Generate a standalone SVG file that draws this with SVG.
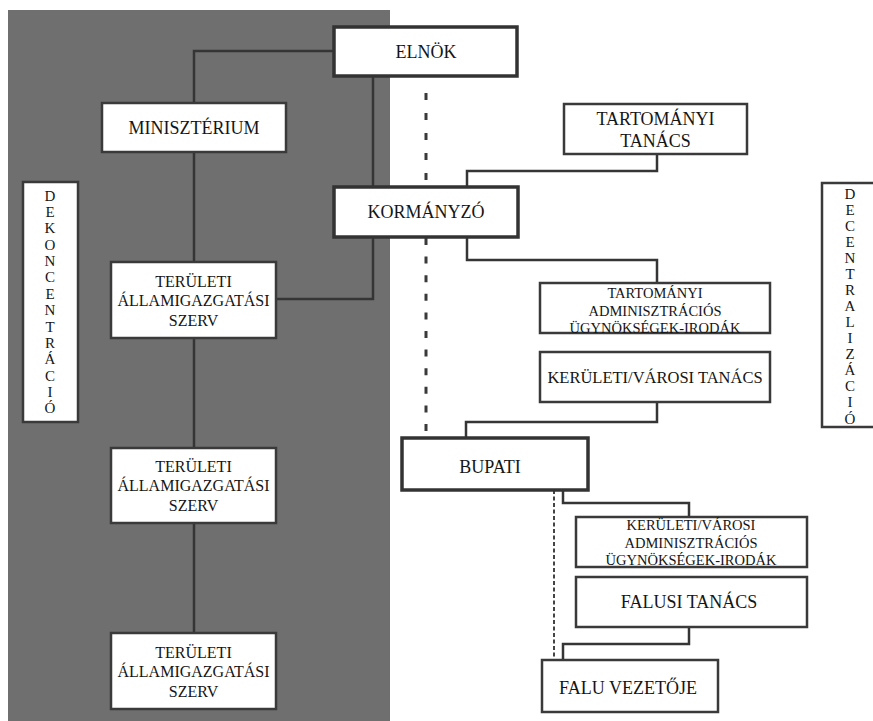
<svg xmlns="http://www.w3.org/2000/svg" width="873" height="721" viewBox="0 0 873 721">
<style>
  text { font-family: "Liberation Serif", "Times New Roman", serif; fill: #151515; text-anchor: middle; }
  .box { fill: #ffffff; stroke: #3a3a3a; stroke-width: 2.5; }
  .thick { fill: #ffffff; stroke: #333333; stroke-width: 3.5; }
  .conn { fill: none; stroke: #353535; stroke-width: 2.5; }
  .dash { fill: none; stroke: #3a3a3a; stroke-width: 3; stroke-dasharray: 7 13; }
  .dash2 { fill: none; stroke: #3a3a3a; stroke-width: 3; stroke-dasharray: 7 11.6; }
  .thin { fill: none; stroke: #444444; stroke-width: 2; stroke-dasharray: 4 2.5; }
  .f18 { font-size: 18px; }
  .f16 { font-size: 16px; }
  .f145 { font-size: 14.5px; }
  .f165 { font-size: 16.5px; }
  .v { font-size: 15px; }
</style>
<rect id="background" x="0" y="0" width="873" height="721" fill="#ffffff"/>
<rect id="deconcentration-area" x="8" y="10" width="382" height="711" fill="#6f6f6f"/>

<g id="connectors">
  <path class="conn" d="M333,51 H194 V633"/>
  <path class="conn" d="M373,76 V299 H276"/>
  <path class="dash" d="M426,93 V187"/>
  <path class="dash2" d="M426,238 V438"/>
  <path class="conn" d="M657,154 V171 H467 V187"/>
  <path class="conn" d="M467,237 V260 H657 V283"/>
  <path class="conn" d="M657,402 V422 H466 V438"/>
  <path class="conn" d="M563,490 V503 H689 V517"/>
  <path class="thin" d="M554,490 V660"/>
  <path class="conn" d="M689,627 V644 H563 V660"/>
</g>

<g id="elnok">
  <rect class="thick" x="334" y="27" width="183" height="49"/>
  <text class="f18" x="426" y="58">ELNÖK</text>
</g>

<g id="miniszterium">
  <rect class="box" x="102" y="103" width="184" height="49"/>
  <text class="f18" x="194" y="134">MINISZTÉRIUM</text>
</g>

<g id="dekoncentracio">
  <rect class="box" x="23" y="182" width="55" height="240"/>
  <text class="v"><tspan x="50" y="200.5">D</tspan><tspan x="50" y="216.9">E</tspan><tspan x="50" y="233.3">K</tspan><tspan x="50" y="249.6">O</tspan><tspan x="50" y="266">N</tspan><tspan x="50" y="282.4">C</tspan><tspan x="50" y="298.8">E</tspan><tspan x="50" y="315.2">N</tspan><tspan x="50" y="331.5">T</tspan><tspan x="50" y="347.9">R</tspan><tspan x="50" y="364.3">Á</tspan><tspan x="50" y="380.7">C</tspan><tspan x="50" y="397">I</tspan><tspan x="50" y="413.4">Ó</tspan></text>
</g>

<g id="teruleti-1">
  <rect class="box" x="111" y="262" width="165" height="76"/>
  <text class="f16"><tspan x="193.5" y="286.5">TERÜLETI</tspan><tspan x="193.5" y="306">ÁLLAMIGAZGATÁSI</tspan><tspan x="193.5" y="325.5">SZERV</tspan></text>
</g>

<g id="teruleti-2">
  <rect class="box" x="111" y="448" width="165" height="75"/>
  <text class="f16"><tspan x="193.5" y="471.5">TERÜLETI</tspan><tspan x="193.5" y="491">ÁLLAMIGAZGATÁSI</tspan><tspan x="193.5" y="510.5">SZERV</tspan></text>
</g>

<g id="teruleti-3">
  <rect class="box" x="111" y="633" width="165" height="76"/>
  <text class="f16"><tspan x="193.5" y="657.5">TERÜLETI</tspan><tspan x="193.5" y="677">ÁLLAMIGAZGATÁSI</tspan><tspan x="193.5" y="696.5">SZERV</tspan></text>
</g>

<g id="tartomanyi-tanacs">
  <rect class="box" x="564" y="104" width="183" height="50"/>
  <text class="f18"><tspan x="655.5" y="125">TARTOMÁNYI</tspan><tspan x="655.5" y="147">TANÁCS</tspan></text>
</g>

<g id="kormanyzo">
  <rect class="thick" x="334" y="187" width="184" height="50"/>
  <text class="f18" x="426" y="218">KORMÁNYZÓ</text>
</g>

<g id="tartomanyi-adm">
  <rect class="box" x="540" y="283" width="230" height="50"/>
  <text class="f145"><tspan x="655" y="298">TARTOMÁNYI</tspan><tspan x="655" y="316">ADMINISZTRÁCIÓS</tspan><tspan x="655" y="333">ÜGYNÖKSÉGEK-IRODÁK</tspan></text>
</g>

<g id="keruleti-tanacs">
  <rect class="box" x="540" y="352" width="230" height="50"/>
  <text class="f165" x="655" y="383">KERÜLETI/VÁROSI TANÁCS</text>
</g>

<g id="decentralizacio">
  <rect class="box" x="822" y="183" width="60" height="244"/>
  <text class="v"><tspan x="850" y="198.5">D</tspan><tspan x="850" y="214.6">E</tspan><tspan x="850" y="230.6">C</tspan><tspan x="850" y="246.7">E</tspan><tspan x="850" y="262.8">N</tspan><tspan x="850" y="278.9">T</tspan><tspan x="850" y="294.9">R</tspan><tspan x="850" y="311">A</tspan><tspan x="850" y="327.1">L</tspan><tspan x="850" y="343.1">I</tspan><tspan x="850" y="359.2">Z</tspan><tspan x="850" y="375.3">Á</tspan><tspan x="850" y="391.3">C</tspan><tspan x="850" y="407.4">I</tspan><tspan x="850" y="423.5">Ó</tspan></text>
</g>

<g id="bupati">
  <rect class="thick" x="402" y="438" width="186" height="52"/>
  <text class="f18" x="490" y="473">BUPATI</text>
</g>

<g id="keruleti-adm">
  <rect class="box" x="576" y="517" width="231" height="50"/>
  <text class="f145"><tspan x="691" y="530">KERÜLETI/VÁROSI</tspan><tspan x="691" y="548">ADMINISZTRÁCIÓS</tspan><tspan x="691" y="565">ÜGYNÖKSÉGEK-IRODÁK</tspan></text>
</g>

<g id="falusi-tanacs">
  <rect class="box" x="576" y="577" width="231" height="50"/>
  <text class="f18" x="689" y="608">FALUSI TANÁCS</text>
</g>

<g id="falu-vezetoje">
  <rect class="box" x="542" y="660" width="176" height="52"/>
  <text class="f18" x="628" y="694">FALU VEZETŐJE</text>
</g>
</svg>
